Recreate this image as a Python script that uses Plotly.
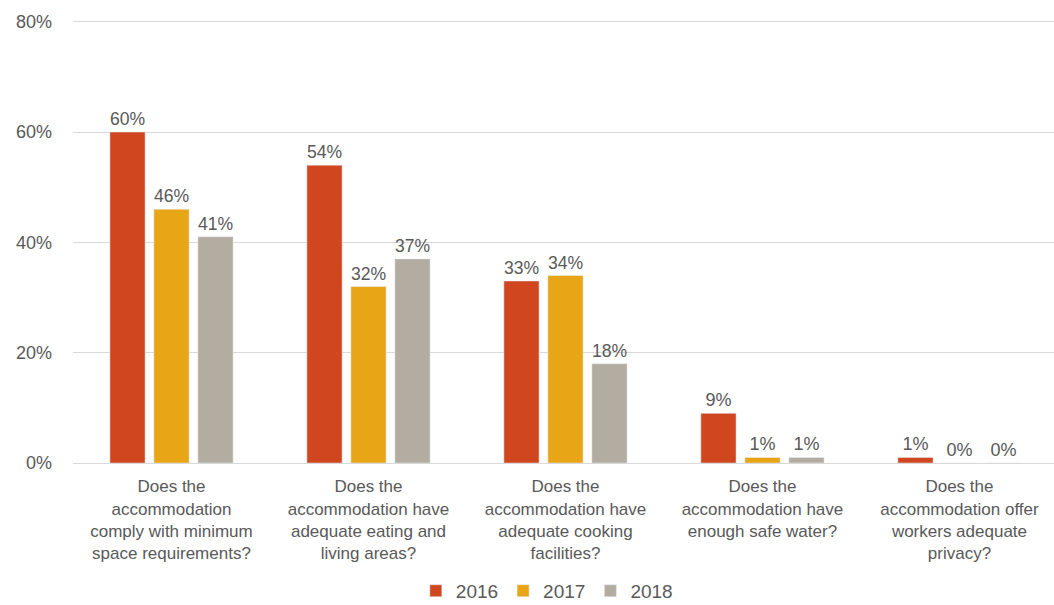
import plotly.graph_objects as go

categories = [
    "Does the<br>accommodation<br>comply with minimum<br>space requirements?",
    "Does the<br>accommodation have<br>adequate eating and<br>living areas?",
    "Does the<br>accommodation have<br>adequate cooking<br>facilities?",
    "Does the<br>accommodation have<br>enough safe water?",
    "Does the<br>accommodation offer<br>workers adequate<br>privacy?",
]
years = ["2016", "2017", "2018"]
v2016 = [0.60, 0.54, 0.33, 0.09, 0.01]
v2017 = [0.46, 0.32, 0.34, 0.01, 0.00]
v2018 = [0.41, 0.37, 0.18, 0.01, 0.00]
colors = ["#D0461F", "#E8A516", "#B3ADA1"]

FONT = "Arial, Liberation Sans, sans-serif"
fig = go.Figure()
for name, vals, col in zip(years, [v2016, v2017, v2018], colors):
    fig.add_trace(go.Bar(
        x=categories, y=vals, name=name, marker_color=col,
        texttemplate="%{y:.0%}", textposition="outside", cliponaxis=False,
        textfont=dict(size=18, color="#595959", family=FONT),
    ))

fig.update_layout(
    width=1054, height=605,
    margin=dict(l=73, r=0, t=19, b=142, autoexpand=False),
    paper_bgcolor="white", plot_bgcolor="white",
    barmode="group", bargap=0.33, bargroupgap=0.2,
    font=dict(family=FONT, size=15, color="#595959"),
    showlegend=True,
    legend=dict(orientation="h", x=0.483, xanchor="center", y=-0.288, yanchor="middle",
                font=dict(size=19, color="#595959"), itemwidth=30, traceorder="normal",
                tracegroupgap=0),
)
fig.update_xaxes(range=[-0.5, 4.48], showgrid=False, showline=True, linecolor="#D9D9D9",
                 linewidth=1, ticks="", automargin=False, ticklabelstandoff=8,
                 tickfont=dict(size=17, color="#595959"))
fig.update_yaxes(range=[0, 0.805], tickvals=[0, 0.2, 0.4, 0.6, 0.8], tickformat=".0%",
                 showgrid=True, gridcolor="#D9D9D9", gridwidth=1, zeroline=False,
                 automargin=False, ticklabelstandoff=20,
                 tickfont=dict(size=18, color="#595959"))
fig.write_html("out.html", config={"displayModeBar": False},
               post_script="document.body.style.margin='0';")
